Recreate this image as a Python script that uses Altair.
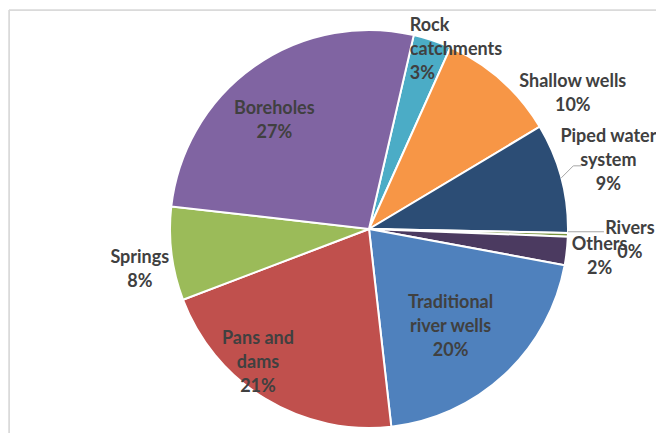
import math
import altair as alt
import pandas as pd

# ---- data ----
categories = ["Rock catchments", "Shallow wells", "Piped water system", "Rivers",
              "Others", "Traditional river wells", "Pans and dams", "Springs", "Boreholes"]
label_names = ["Rock\ncatchments", "Shallow wells", "Piped water\nsystem", "Rivers",
               "Others", "Traditional\nriver wells", "Pans and\ndams", "Springs", "Boreholes"]
values = [3.1, 9.7, 8.9, 0.3, 2.3, 20.3, 21.0, 7.6, 26.8]
colors = ["#4BACC6", "#F79646", "#2C4D75", "#77933C", "#4B3A60",
          "#4F81BD", "#C0504D", "#9BBB59", "#8064A2"]

# ---- layout (kept apart from the data) ----
CX, CY, R = 360, 219, 199          # pie centre / radius inside the plot area
START_DEG = 13.0                   # Excel "angle of first slice"
a0 = math.radians(START_DEG)
theta_scale = alt.Scale(domain=[0, 100], range=[a0, a0 + 2 * math.pi])
# label placement: radius, dx, dy (to first line), align
label_layout = {
    "Rock catchments": (200, -23, -13, "left"),
    "Shallow wells": (230, 51, 25, "center"),
    "Piped water system": (255, -7, -26, "center"),
    "Rivers": (270, -9, -8, "center"),
    "Others": (233, -1, -10, "center"),
    "Traditional river wells": (127, -5, -19, "center"),
    "Pans and dams": (173, -21, -38, "center"),
    "Springs": (230, -1, 0, "center"),
    "Boreholes": (145, -11, -2, "center"),
}

starts, s = [], 0.0
for v in values:
    starts.append(s)
    s += v
df = pd.DataFrame({
    "category": categories,
    "value": values,
    "start": starts,
    "end": [a + v for a, v in zip(starts, values)],
    "label": [f"{n}\n{round(v)}%" for n, v in zip(label_names, values)],
})
df["mid"] = (df["start"] + df["end"]) / 2

color_scale = alt.Scale(domain=categories, range=colors)
FONT = "Lato"
TEXT_COLOR = "#404040"

base = alt.Chart(df)

pie = base.mark_arc(radius=R, stroke="white", strokeWidth=2).encode(
    theta=alt.Theta("start:Q", scale=theta_scale),
    theta2="end:Q",
    color=alt.Color("category:N", scale=color_scale, legend=None),
    x=alt.value(CX),
    y=alt.value(CY),
)

text_layers = []
for cat in categories:
    r, dx, dy, align = label_layout[cat]
    t = base.transform_filter(alt.datum.category == cat).mark_text(
        radius=r, dx=dx, dy=dy, align=align, baseline="middle",
        lineBreak="\n", lineHeight=24, font=FONT, fontSize=18,
        fontWeight="bold", color=TEXT_COLOR,
    ).encode(
        theta=alt.Theta("mid:Q", scale=theta_scale),
        text="label:N",
        x=alt.value(CX),
        y=alt.value(CY),
    )
    text_layers.append(t)

# leader lines for the two outside labels on the right, derived from slice mid-angles
def edge_point(cat):
    row = df[df.category == cat].iloc[0]
    ang = a0 + row["mid"] / 100 * 2 * math.pi
    return CX + R * math.sin(ang), CY - R * math.cos(ang)

px, py = edge_point("Piped water system")
rx, ry = edge_point("Rivers")
leaders = pd.DataFrame({
    "x": [px, px + 12, rx],
    "y": [py, py - 12, ry - 3],
    "x2": [px + 12, px + 20, rx + 36],
    "y2": [py - 12, py - 12, ry - 3],
})
leader_rules = alt.Chart(leaders).mark_rule(color="#A6A6A6", strokeWidth=1).encode(
    x=alt.X("x:Q", scale=None), y=alt.Y("y:Q", scale=None),
    x2="x2:Q", y2="y2:Q",
)

W, H = 647, 423
frame_top = alt.Chart(pd.DataFrame({"k": [0]})).mark_rule(color="#D9D9D9", strokeWidth=1.5).encode(
    x=alt.value(0), x2=alt.value(W), y=alt.value(0))
frame_left = alt.Chart(pd.DataFrame({"k": [0]})).mark_rule(color="#D9D9D9", strokeWidth=1.5).encode(
    x=alt.value(0), y=alt.value(0), y2=alt.value(H))

chart = alt.layer(frame_top, frame_left, pie, leader_rules, *text_layers).properties(
    width=W, height=H,
    autosize=alt.AutoSizeParams(type="none"),
    padding={"left": 1, "top": 2, "right": 0, "bottom": 0},
).configure_view(stroke=None).configure(background="white")

chart.save("out.html", embed_options={"renderer": "svg", "actions": False})
